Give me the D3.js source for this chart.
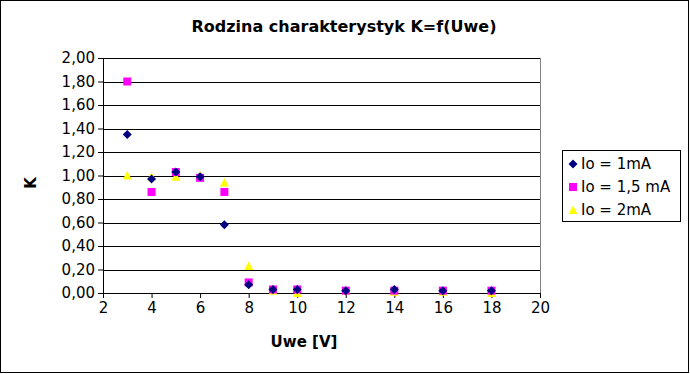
<!DOCTYPE html>
<html>
<head>
<meta charset="utf-8">
<script src="https://cdn.jsdelivr.net/npm/d3@7"></script>
<style>
  body { margin: 0; background: #fff; }
  text { font-family: "DejaVu Sans", sans-serif; }
</style>
</head>
<body>
<div id="chart"></div>
<script>
// data
const uwe = [3, 4, 5, 6, 7, 8, 9, 10, 12, 14, 16, 18];
const k1mA = [1.35, 0.97, 1.03, 0.99, 0.58, 0.07, 0.03, 0.03, 0.02, 0.03, 0.02, 0.02];
const k15mA = [1.80, 0.86, 1.03, 0.98, 0.86, 0.09, 0.03, 0.03, 0.02, 0.02, 0.02, 0.02];
const k2mA = [1.00, 0.99, 0.99, 1.00, 0.94, 0.23, 0.02, 0.00, 0.02, 0.01, 0.01, 0.00];
const seriesNames = ['Io = 1mA', 'Io = 1,5 mA', 'Io = 2mA'];
const seriesColors = ['#000080', '#ff00ff', '#ffff00'];
const xTicks = [2, 4, 6, 8, 10, 12, 14, 16, 18, 20];
const yTicks = [0, 0.2, 0.4, 0.6, 0.8, 1.0, 1.2, 1.4, 1.6, 1.8, 2.0];

const width = 690, height = 374;
const margin = { top: 58, right: 150, bottom: 81, left: 103 };

// marker outlines like the spreadsheet ones
const markerPaths = [
  'M0,-4.5L4.5,0L0,4.5L-4.5,0Z',
  'M-4,-4H4V4H-4Z',
  'M0,-4.5L4.5,4L-4.5,4Z',
];

const svg = d3.select('#chart')
  .append('svg')
  .attr('width', width)
  .attr('height', height);

// outer frame
svg.append('rect')
  .attr('x', 0.5).attr('y', 0.5)
  .attr('width', width - 2).attr('height', height - 2)
  .attr('fill', '#fff')
  .attr('stroke', '#000');

const x = d3.scaleLinear().domain([2, 20]).range([margin.left, width - margin.right]);
const y = d3.scaleLinear().domain([0, 2]).range([height - margin.bottom, margin.top]);

const fmt = (d) => d.toFixed(2).replace('.', ',');

// grid lines
svg.append('g')
  .selectAll('line')
  .data(yTicks)
  .enter()
  .append('line')
  .attr('x1', x(2)).attr('x2', x(20))
  .attr('y1', (d) => Math.round(y(d)) + 0.5)
  .attr('y2', (d) => Math.round(y(d)) + 0.5)
  .attr('stroke', '#000');

// right edge of plot area
svg.append('line')
  .attr('x1', x(20) + 0.5).attr('x2', x(20) + 0.5)
  .attr('y1', y(2)).attr('y2', y(0))
  .attr('stroke', '#808080');

// axes
const yAxis = d3.axisLeft(y).tickValues(yTicks).tickFormat(fmt).tickSizeOuter(0).tickSize(5).tickPadding(3);
const gy = svg.append('g')
  .attr('transform', `translate(${x(2)},0)`)
  .call(yAxis);

const xAxis = d3.axisBottom(x).tickValues(xTicks).tickSizeOuter(0).tickSize(5).tickPadding(4);
const gx = svg.append('g')
  .attr('transform', `translate(0,${Math.round(y(0))})`)
  .call(xAxis);

[gy, gx].forEach((g) => {
  g.selectAll('text')
    .attr('font-family', '"DejaVu Sans", sans-serif')
    .attr('font-size', 15)
    .attr('fill', '#000');
  g.selectAll('line, path').attr('stroke', '#000');
});

// markers, drawn last series first so the diamonds stay on top
const allSeries = [k1mA, k15mA, k2mA];
for (let s = allSeries.length - 1; s >= 0; s--) {
  const pts = uwe.map((u, i) => ({ u: u, k: allSeries[s][i] }));
  svg.append('g')
    .selectAll('path')
    .data(pts)
    .enter()
    .append('path')
    .attr('d', markerPaths[s])
    .attr('transform', (d) => `translate(${x(d.u)},${y(d.k)})`)
    .attr('fill', seriesColors[s]);
}

// title
svg.append('text')
  .attr('x', 344)
  .attr('y', 32)
  .attr('text-anchor', 'middle')
  .attr('font-size', 16)
  .attr('font-weight', 'bold')
  .text('Rodzina charakterystyk K=f(Uwe)');

// axis titles
svg.append('text')
  .attr('x', 304)
  .attr('y', 347)
  .attr('text-anchor', 'middle')
  .attr('font-size', 15)
  .attr('font-weight', 'bold')
  .text('Uwe [V]');

svg.append('text')
  .attr('transform', 'translate(36,183) rotate(-90)')
  .attr('text-anchor', 'middle')
  .attr('font-size', 15)
  .attr('font-weight', 'bold')
  .text('K');

// legend
const legend = svg.append('g').attr('transform', 'translate(562,150)');
legend.append('rect')
  .attr('x', 0.5).attr('y', 0.5)
  .attr('width', 118).attr('height', 71)
  .attr('fill', '#fff')
  .attr('stroke', '#000');

seriesNames.forEach((name, i) => {
  const row = legend.append('g').attr('transform', `translate(0,${14 + i * 23})`);
  row.append('path')
    .attr('d', markerPaths[i])
    .attr('transform', 'translate(11,0)')
    .attr('fill', seriesColors[i]);
  row.append('text')
    .attr('x', 19)
    .attr('y', 5)
    .attr('font-size', 15)
    .text(name);
});
</script>
</body>
</html>
